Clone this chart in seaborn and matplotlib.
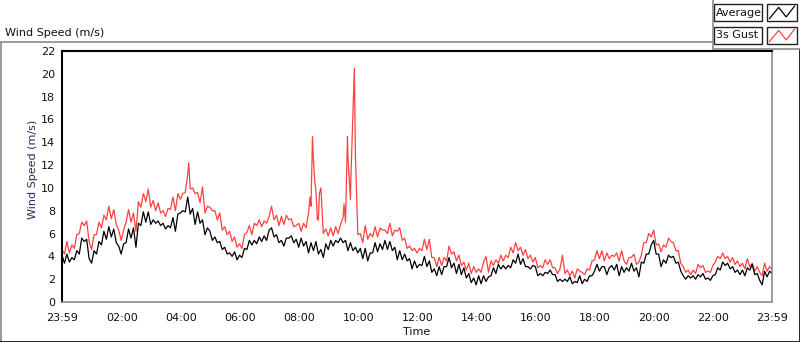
import numpy as np
import pandas as pd
import matplotlib
matplotlib.use("Agg")
import matplotlib.pyplot as plt
import seaborn as sns
from matplotlib.lines import Line2D
from matplotlib.patches import Rectangle

# 5-minute samples over the day, minute 0 = 23:59 of the previous day
step_min = 5
avg_speed = [
    4.1, 3.4, 4.2, 3.5, 3.9, 3.7, 4.5, 4.2, 5.6, 5.3, 5.5, 3.8,   # 00
    3.4, 4.5, 4.2, 5.3, 5.0, 6.2, 5.5, 6.6, 5.7, 6.4, 5.2, 4.9,   # 01
    4.2, 5.1, 5.2, 6.4, 5.6, 6.5, 4.8, 6.9, 6.7, 7.9, 7.0, 7.9,   # 02
    6.8, 7.2, 6.9, 7.1, 6.7, 6.9, 6.4, 6.7, 6.5, 7.4, 6.2, 7.7,   # 03
    7.8, 8.0, 7.9, 9.2, 7.7, 8.2, 6.8, 7.9, 6.9, 7.2, 5.9, 6.5,   # 04
    6.2, 5.4, 5.7, 5.2, 5.3, 4.6, 4.8, 4.2, 4.3, 4.0, 4.4, 3.7,   # 05
    4.1, 3.9, 4.7, 4.6, 5.4, 5.0, 5.4, 5.1, 5.7, 5.3, 5.8, 5.4,   # 06
    6.3, 6.5, 5.7, 5.9, 5.2, 5.4, 4.9, 5.6, 5.6, 5.8, 5.2, 5.5,   # 07
    4.8, 5.6, 4.9, 5.3, 4.3, 5.2, 4.5, 5.3, 4.2, 4.6, 3.9, 5.1,   # 08
    4.6, 5.4, 4.9, 5.4, 5.2, 5.6, 5.2, 5.4, 4.5, 5.2, 4.5, 4.8,   # 09
    4.3, 4.7, 3.8, 4.7, 3.6, 4.3, 4.3, 5.2, 4.4, 5.1, 4.6, 5.4,   # 10
    4.6, 5.3, 4.5, 4.8, 3.7, 4.5, 3.7, 4.2, 3.6, 3.8, 2.9, 3.6,   # 11
    3.0, 3.3, 3.2, 4.0, 3.1, 3.6, 2.6, 2.9, 2.3, 3.1, 2.4, 3.1,   # 12
    3.1, 3.9, 3.0, 3.4, 2.5, 3.3, 2.4, 3.0, 2.1, 2.5, 1.7, 2.1,   # 13
    1.5, 2.3, 1.6, 2.3, 1.8, 2.2, 2.3, 3.0, 2.5, 3.3, 2.9, 3.2,   # 14
    2.9, 3.2, 3.0, 3.7, 3.4, 4.2, 3.3, 3.8, 3.1, 3.1, 2.9, 3.2,   # 15
    3.1, 2.3, 2.5, 2.3, 2.6, 2.5, 2.8, 2.4, 2.4, 1.8, 2.0, 1.8,   # 16
    2.0, 1.8, 2.2, 1.6, 1.8, 1.7, 2.3, 1.6, 2.0, 1.8, 2.3, 2.3,   # 17
    2.7, 3.3, 2.7, 3.1, 3.1, 2.4, 3.0, 3.2, 2.8, 3.3, 2.3, 3.1,   # 18
    2.6, 3.0, 2.7, 3.4, 2.7, 3.0, 2.2, 3.5, 3.4, 4.2, 4.2, 5.0,   # 19
    5.4, 4.2, 4.2, 3.1, 3.7, 3.4, 4.1, 3.9, 4.0, 3.4, 3.5, 2.7,   # 20
    2.3, 2.0, 2.3, 2.1, 2.3, 2.0, 2.4, 2.2, 2.5, 2.0, 2.1, 1.9,   # 21
    2.3, 2.4, 3.0, 2.8, 3.5, 3.2, 3.4, 2.9, 3.1, 2.6, 2.8, 2.4,   # 22
    2.8, 2.3, 3.0, 2.8, 3.3, 2.4, 2.5, 1.9, 1.5, 2.7, 2.2, 2.7,   # 23
    2.5,
]
gust_speed = [
    4.6, 4.2, 5.3, 4.3, 5.0, 4.7, 5.9, 6.0, 7.0, 6.7, 7.1, 5.3,   # 00
    4.6, 5.9, 5.9, 7.0, 6.5, 7.6, 7.2, 8.4, 7.3, 8.1, 6.8, 6.3,   # 01
    5.4, 6.3, 7.0, 8.1, 7.0, 7.8, 6.2, 8.8, 8.3, 9.5, 8.8, 9.9,   # 02
    8.3, 8.9, 8.0, 8.7, 7.8, 8.0, 7.5, 8.2, 8.1, 9.2, 8.0, 9.5,   # 03
    9.0, 9.5, 9.6, 11.2, 9.9, 10.0, 9.5, 9.6, 8.7, 10.1, 7.8, 8.4,  # 04
    8.3, 8.0, 8.0, 7.2, 7.8, 6.3, 6.6, 5.9, 6.2, 5.3, 5.7, 4.8,   # 05
    5.1, 4.7, 5.9, 6.1, 6.7, 5.9, 6.9, 6.7, 7.2, 6.6, 7.1, 6.9,   # 06
    7.5, 8.4, 7.2, 7.6, 6.7, 7.5, 6.8, 7.6, 7.2, 7.3, 6.6, 6.7,   # 07
    6.9, 6.2, 6.9, 6.5, 7.8, 8.4, 12.4, 9.8, 7.2, 10.0, 6.0, 6.4,  # 08
    5.8, 6.5, 5.8, 6.6, 6.0, 6.8, 7.4, 7.0, 12.7, 9.0, 16.5, 13.0,  # 09
    5.9, 6.0, 5.2, 6.7, 5.5, 6.0, 5.7, 6.6, 5.7, 6.5, 6.3, 6.3,   # 10
    6.0, 6.9, 5.8, 6.3, 6.2, 6.5, 5.4, 5.6, 4.7, 4.9, 4.5, 4.7,   # 11
    4.3, 4.7, 4.5, 5.5, 4.6, 5.5, 3.9, 3.9, 3.1, 3.9, 3.2, 3.9,   # 12
    3.6, 4.9, 4.2, 4.4, 3.6, 4.1, 3.2, 3.5, 2.8, 3.4, 2.5, 3.1,   # 13
    2.6, 2.9, 2.6, 3.5, 4.0, 2.6, 3.6, 3.2, 3.7, 3.4, 4.1, 3.6,   # 14
    4.1, 3.9, 4.8, 4.3, 5.2, 4.5, 4.8, 4.1, 4.6, 3.8, 4.1, 3.5,   # 15
    3.9, 3.0, 3.2, 3.0, 3.7, 3.3, 3.7, 3.0, 3.0, 2.5, 2.9, 4.1,   # 16
    2.5, 2.8, 2.3, 2.7, 2.1, 2.9, 2.7, 2.6, 2.4, 2.9, 2.8, 3.6,   # 17
    3.7, 4.5, 3.8, 4.5, 3.6, 4.3, 3.8, 4.1, 4.0, 4.3, 3.6, 4.5,   # 18
    3.6, 3.3, 3.9, 3.9, 4.2, 3.3, 3.5, 4.1, 5.2, 5.2, 6.0, 5.7,   # 19
    6.3, 5.0, 5.1, 4.4, 5.0, 4.8, 5.6, 5.3, 5.2, 4.5, 4.5, 3.4,   # 20
    3.1, 2.6, 2.8, 2.4, 2.8, 2.5, 3.3, 3.0, 3.2, 2.6, 2.7, 2.6,   # 21
    3.2, 3.5, 4.0, 3.8, 4.3, 3.8, 4.0, 3.5, 3.9, 3.3, 3.6, 3.1,   # 22
    3.4, 2.9, 3.8, 3.1, 3.4, 2.7, 3.1, 2.6, 2.3, 3.4, 2.7, 3.1,   # 23
    2.9,
]
# short gust peaks between the 5-minute samples
spike_minute = [257, 503, 508, 513, 518, 522, 572, 579, 586, 593]
spike_speed = [12.2, 9.2, 14.5, 10.4, 7.2, 9.5, 8.6, 14.5, 11.0, 20.5]

tick_labels = ["23:59", "02:00", "04:00", "06:00", "08:00", "10:00", "12:00",
               "14:00", "16:00", "18:00", "20:00", "22:00", "23:59"]

W, H = 800, 342


def px(x, y):
    """pixel position (from top-left) -> figure fraction"""
    return x / W, 1 - y / H


minutes = np.arange(len(avg_speed)) * step_min
avg_df = pd.DataFrame({"minute": minutes, "speed": avg_speed})
gust_df = pd.concat([
    pd.DataFrame({"minute": minutes, "speed": gust_speed}),
    pd.DataFrame({"minute": spike_minute, "speed": spike_speed}),
]).sort_values("minute")

sns.set_style("white")
plt.rcParams["font.family"] = ["DejaVu Sans"]

fig = plt.figure(figsize=(W / 100, H / 100), dpi=100)
x0, y0 = px(62, 302)
x1, y1 = px(772, 51)
ax = fig.add_axes([x0, y0, x1 - x0, y1 - y0])

sns.lineplot(data=gust_df, x="minute", y="speed", color="#ff4040", lw=0.9,
             estimator=None, sort=False, ax=ax)
sns.lineplot(data=avg_df, x="minute", y="speed", color="black", lw=0.9,
             estimator=None, sort=False, ax=ax)

ax.set_xlim(0, 1440)
ax.set_ylim(0, 22)
ax.set_yticks(range(0, 23, 2))
major = [0] + [121 + 120 * i for i in range(11)] + [1440]
ax.set_xticks(major)
ax.set_xticklabels(tick_labels)
ax.set_xticks(np.arange(0, 1441, 15), minor=True)
ax.tick_params(axis="both", which="major", direction="out", length=4, width=1,
               color="#333333", labelsize=8, labelcolor="#111111", pad=2)
ax.tick_params(axis="x", which="minor", direction="out", length=2.5, width=1,
               color="#333333")
ax.tick_params(axis="x", which="major", length=5, pad=3)
ax.tick_params(axis="y", pad=1)

for side in ["left", "top"]:
    ax.spines[side].set_color("black")
    ax.spines[side].set_linewidth(1.5)
for side in ["right", "bottom"]:
    ax.spines[side].set_color("#8a8a8a")
    ax.spines[side].set_linewidth(1.2)

ax.set_ylabel("Wind Speed (m/s)", fontsize=8, color="#1e2d5c")
ax.yaxis.set_label_coords(-0.034, 0.53)
ax.set_xlabel("Time", fontsize=8, color="#111111")
ax.xaxis.set_label_coords(0.5, -0.1)

# panel frame and title
gray = "#8a8a8a"
fig.add_artist(Line2D(*zip(px(0.5, 42), px(713, 42)), color=gray, lw=1.2))
fig.add_artist(Line2D(*zip(px(0.5, 42), px(0.5, 341.5)), color=gray, lw=1.2))
fig.add_artist(Line2D(*zip(px(0, 341.5), px(800, 341.5)), color="black", lw=1.2))
fig.add_artist(Line2D(*zip(px(799.5, 49), px(799.5, 342)), color="black", lw=1.2))
fig.add_artist(Line2D(*zip(px(713, 0), px(713, 49)), color=gray, lw=1.2))
fig.add_artist(Line2D(*zip(px(713, 49), px(800, 49)), color=gray, lw=1.2))
fig.text(*px(5, 36), "Wind Speed (m/s)", fontsize=8, color="#111111",
         va="baseline", ha="left")

# legend boxes
legend_rows = [("Average", "black", 4), ("3s Gust", "#ff4040", 27)]
zig_x = [0.08, 0.39, 0.64, 0.92]
zig_y = [0.14, 0.80, 0.24, 0.88]
for label, color, top in legend_rows:
    bx, by = px(714, top + 17)
    fig.add_artist(Rectangle((bx, by), 48 / W, 17 / H, transform=fig.transFigure,
                             facecolor="white", edgecolor="#222222", lw=1))
    fig.text(*px(716, top + 8.5), label, fontsize=8, color="#111111",
             va="center", ha="left")
    sx, sy = px(767, top + 17)
    fig.add_artist(Rectangle((sx, sy), 30 / W, 17 / H, transform=fig.transFigure,
                             facecolor="white", edgecolor="#222222", lw=1))
    zx = [(767 + 30 * v) / W for v in zig_x]
    zy = [1 - (top + 17 - 17 * v) / H for v in zig_y]
    fig.add_artist(Line2D(zx, zy, color=color, lw=0.9))

fig.savefig("out.png", dpi=100)
